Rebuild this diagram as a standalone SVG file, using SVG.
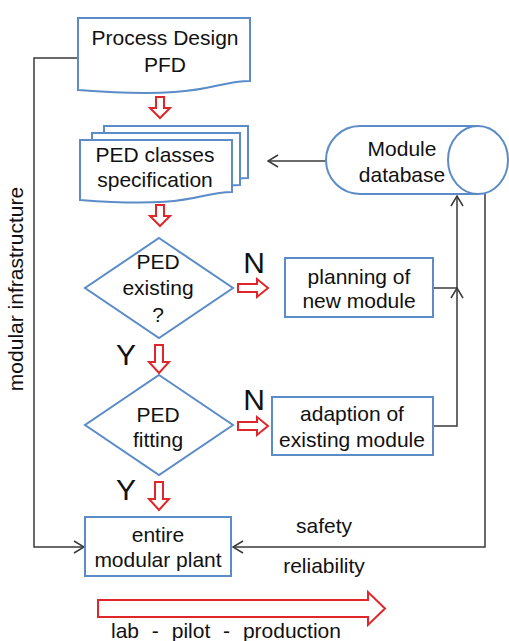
<svg xmlns="http://www.w3.org/2000/svg" width="509" height="641" viewBox="0 0 509 641">
  <style>
    .box { fill: #ffffff; stroke: #5b8cc8; stroke-width: 2; }
    .red { fill: #ffffff; stroke: #e0262b; stroke-width: 2; stroke-linejoin: miter; }
    .con { fill: none; stroke: #3a3a3a; stroke-width: 1.5; }
    .t { font-family: "Liberation Sans", Arial, sans-serif; font-size: 21px; fill: #111111; text-anchor: middle; }
    .big { font-family: "Liberation Sans", Arial, sans-serif; font-size: 30px; fill: #111111; text-anchor: middle; }
  </style>
  <defs>
    <marker id="open" viewBox="0 0 12 14" refX="11" refY="7" markerWidth="12" markerHeight="14" markerUnits="userSpaceOnUse" orient="auto">
      <path d="M1,1 L11,7 L1,13" fill="none" stroke="#3a3a3a" stroke-width="1.5"/>
    </marker>
  </defs>
  <rect width="509" height="641" fill="#ffffff"/>

  <!-- connectors -->
  <g id="connectors">
    <path class="con" d="M78,58 H34 V547 H84" marker-end="url(#open)"/>
    <path class="con" d="M485,194 V547 H233" marker-end="url(#open)"/>
    <path class="con" d="M326,161 H268" marker-end="url(#open)"/>
    <path class="con" d="M433,288 H457"/>
    <path class="con" d="M433,426 H457 V288" marker-end="url(#open)"/>
    <path class="con" d="M457,288 V196" marker-end="url(#open)"/>

    <!-- hollow red flow arrows -->
    <path class="red" d="M156,97 H164 V108 H170 L160,118 L150,108 H156 Z"/>
    <path class="red" d="M156,205 H164 V216 H170 L160,226 L150,216 H156 Z"/>
    <path class="red" d="M155,345 H163 V362 H169 L159,373 L149,362 H155 Z"/>
    <path class="red" d="M155,482 H163 V499 H169 L159,510 L149,499 H155 Z"/>
    <path class="red" d="M238,284 H257 V279 L268,288 L257,297 V292 H238 Z"/>
    <path class="red" d="M238,422 H257 V417 L268,426 L257,435 V430 H238 Z"/>
    <path class="red" d="M98,600 H368 V592 L385,608.5 L368,625 V617 H98 Z"/>
  </g>

  <g id="process-design">
    <path class="box" d="M78,18 H250 V81 C211,81 211,100 78,90 Z"/>
    <text class="t" x="165" y="45">Process Design</text>
    <text class="t" x="165" y="72">PFD</text>
  </g>

  <g id="ped-classes">
    <path class="box" d="M104,126 H248 V178 C215,178 215,194 104,186 Z"/>
    <path class="box" d="M92,133 H240 V185 C206,185 206,201 92,193 Z"/>
    <path class="box" d="M80,140 H232 V192 C197,192 197,209 80,200 Z"/>
    <text class="t" x="155" y="162">PED classes</text>
    <text class="t" x="155" y="187">specification</text>
  </g>

  <g id="module-database">
    <path class="box" d="M478,126 H360 A34,34 0 0 0 360,194 H478"/>
    <ellipse class="box" cx="478" cy="160" rx="30" ry="34"/>
    <text class="t" x="402" y="156">Module</text>
    <text class="t" x="402" y="182">database</text>
  </g>

  <g id="ped-existing">
    <path class="box" d="M159,238 L233,288 L159,338 L85,288 Z"/>
    <text class="t" x="158" y="269">PED</text>
    <text class="t" x="158" y="295">existing</text>
    <text class="t" x="158" y="322">?</text>
  </g>

  <g id="ped-fitting">
    <path class="box" d="M159,375 L233,425 L159,475 L85,425 Z"/>
    <text class="t" x="158" y="422">PED</text>
    <text class="t" x="158" y="447">fitting</text>
  </g>

  <g id="planning">
    <rect class="box" x="285" y="258" width="148" height="59"/>
    <text class="t" x="359" y="284">planning of</text>
    <text class="t" x="359" y="308">new module</text>
  </g>

  <g id="adaption">
    <rect class="box" x="272" y="397" width="161" height="58"/>
    <text class="t" x="352" y="421">adaption of</text>
    <text class="t" x="352" y="447">existing module</text>
  </g>

  <g id="modular-plant">
    <rect class="box" x="85" y="517" width="146" height="59"/>
    <text class="t" x="158" y="542">entire</text>
    <text class="t" x="158" y="567">modular plant</text>
  </g>

  <g id="labels">
    <text class="big" x="254" y="273">N</text>
    <text class="big" x="254" y="410">N</text>
    <text class="big" x="126" y="365">Y</text>
    <text class="big" x="126" y="500">Y</text>
    <text class="t" x="324" y="533">safety</text>
    <text class="t" x="324" y="573">reliability</text>
    <text class="t" x="226" y="638" word-spacing="7">lab - pilot - production</text>
    <text class="t" transform="translate(23,289) rotate(-90)" x="0" y="0">modular infrastructure</text>
  </g>
</svg>
